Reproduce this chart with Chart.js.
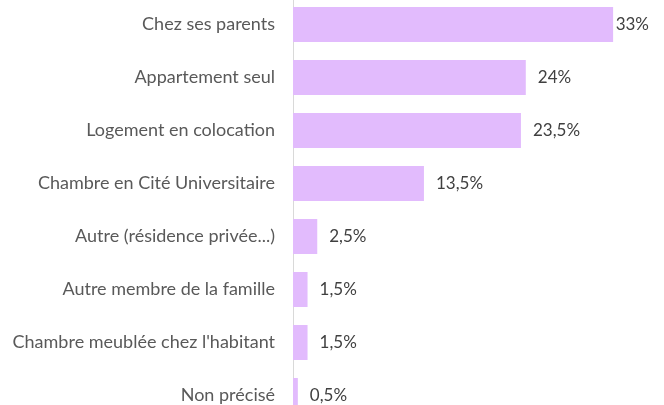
<!DOCTYPE html>
<html><head><meta charset="utf-8">
<script src="https://cdn.jsdelivr.net/npm/chart.js@4/dist/chart.umd.min.js"></script>
<style>
html,body{margin:0;padding:0;background:#fff;overflow:hidden;width:664px;height:405px;}
#c{position:absolute;left:0;top:-2px;width:664px;height:424px;}
</style></head><body>
<canvas id="c" width="664" height="424"></canvas>
<script>
const categories = ["Chez ses parents","Appartement seul","Logement en colocation","Chambre en Cité Universitaire","Autre (résidence privée...)","Autre membre de la famille","Chambre meublée chez l'habitant","Non précisé"];
const values = [33, 24, 23.5, 13.5, 2.5, 1.5, 1.5, 0.5];
const valueLabels = ["33%","24%","23,5%","13,5%","2,5%","1,5%","1,5%","0,5%"];

const FONT = "Lato, 'Open Sans', sans-serif";
const labelPlugin = {
  id:'vals',
  afterDatasetsDraw(chart){
    const ctx = chart.ctx;
    const meta = chart.getDatasetMeta(0);
    ctx.save();
    ctx.font = "17px " + FONT;
    ctx.fillStyle = "#404040";
    ctx.textBaseline = "middle";
    ctx.textAlign = "left";
    meta.data.forEach((bar,i)=>{
      const t = valueLabels[i];
      const w = ctx.measureText(t).width;
      let x = bar.x + 12;
      if (x + w > 649) x = 649 - w;
      ctx.fillText(t, x, bar.y);
    });
    ctx.restore();
  }
};

new Chart(document.getElementById('c'), {
  type:'bar',
  data:{labels:categories, datasets:[{data:values, backgroundColor:'#E2BBFD', borderWidth:0, barPercentage:0.66, categoryPercentage:1}]},
  options:{
    indexAxis:'y', responsive:false, maintainAspectRatio:false, animation:false, devicePixelRatio:1,
    layout:{padding:{left:0,right:31.5,top:0,bottom:0}},
    plugins:{legend:{display:false}, tooltip:{enabled:false}},
    scales:{
      x:{display:false, min:0, max:35},
      y:{
        grid:{display:false, drawTicks:false},
        border:{display:true, color:'#d9d9d9', width:1},
        ticks:{padding:18, color:'#595959', font:{family:FONT, size:18}},
        afterFit(s){ s.width = 293; s.paddingTop = 0; s.paddingBottom = 0; }
      }
    }
  },
  plugins:[labelPlugin]
});
</script></body></html>
